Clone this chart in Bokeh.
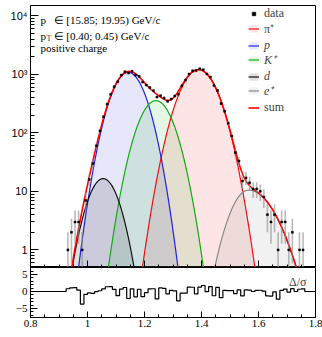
import numpy as np
from bokeh.plotting import figure
from bokeh.layouts import column
from bokeh.models import (FixedTicker, CustomJSTickFormatter, Label, Legend,
                          LegendItem, ColumnDataSource)
from bokeh.embed import file_html
from bokeh.resources import INLINE

# ---- histogram of dE/dx (counts per bin) ----
bin_start = 0.925
bin_width = 0.0125
counts = [1, 2, 3, 3, 1, 7, 16, 30, 60, 108,
          189, 309, 457, 613, 747, 969, 1107, 1054, 1128, 972,
          924, 737, 657, 595, 526, 409, 431, 394, 346, 377,
          426, 458, 639, 796, 1011, 1146, 1161, 1243, 1200, 1017,
          898, 642, 527, 316, 234, 146, 88, 46, 33, 15,
          17, 14, 11, 11, 10, 8, 4, 3, 4, 1,
          3, 3, 1, 2, 0, 1, 1]

# ---- fitted particle components (bifurcated gaussians) ----
species = ["pi", "p", "K", "d", "e"]
species_labels = ["π⁺", "p", "K⁺", "d", "e⁺"]
amplitudes = [1200, 1080, 355, 16.5, 10.5]
means = [1.39, 1.143, 1.24, 1.055, 1.565]
sigmas_left = [0.050, 0.0445, 0.046, 0.041, 0.048]
sigmas_right = [0.050, 0.0445, 0.046, 0.041, 0.068]

# styles
line_colors = ["#ee1111", "#2222dd", "#11aa11", "#111111", "#888888"]
fill_colors = ["#ee1111", "#2222dd", "#11aa11", "#222222", "#888888"]
fill_alpha = [0.11, 0.11, 0.11, 0.14, 0.12]
italic = [False, True, True, True, True]

SERIF = "Liberation Serif"
SANS = "Liberation Sans"


def component(x, a, m, sl, sr):
    s = np.where(x < m, sl, sr)
    return a * np.exp(-0.5 * ((x - m) / s) ** 2)


n_bins = len(counts)
centers = bin_start + bin_width * (np.arange(n_bins) + 0.5)
edges = bin_start + bin_width * np.arange(n_bins + 1)
cnt = np.array(counts, dtype=float)

xs = np.linspace(0.8, 1.8, 1001)
comp_curves = [component(xs, a, m, sl, sr) for a, m, sl, sr in
               zip(amplitudes, means, sigmas_left, sigmas_right)]
sum_curve = np.sum(comp_curves, axis=0)
model_centers = np.sum([component(centers, a, m, sl, sr) for a, m, sl, sr in
                        zip(amplitudes, means, sigmas_left, sigmas_right)], axis=0)

# ---- main panel ----
p = figure(width=322, height=267, frame_width=285, frame_height=262,
           x_range=(0.8, 1.8), y_range=(0.5, 1.5e4), y_axis_type="log",
           output_backend="svg", toolbar_location=None,
           min_border_left=30, min_border_right=7, min_border_top=5,
           min_border_bottom=0)
p.background_fill_color = "white"
p.border_fill_color = "white"
p.outline_line_color = "black"
p.outline_line_width = 1
p.xgrid.visible = False
p.ygrid.visible = False

fills, lines = [], []
for i in range(len(species)):
    yv = np.maximum(comp_curves[i], 1e-4)
    f = p.varea(x=xs, y1=np.full_like(xs, 1e-4), y2=yv,
                fill_color=fill_colors[i], fill_alpha=fill_alpha[i])
    fills.append(f)
for i in range(len(species)):
    yv = np.maximum(comp_curves[i], 1e-4)
    l = p.line(xs, yv, line_color=line_colors[i], line_width=1.2)
    lines.append(l)

sum_line = p.line(xs, sum_curve, line_color="#ff0000", line_width=1.6)

valid = cnt > 0
err = np.sqrt(cnt)
src = ColumnDataSource(dict(
    x=centers[valid], y=cnt[valid],
    lo=np.maximum(cnt[valid] - err[valid], 1e-3),
    hi=cnt[valid] + err[valid]))
p.segment(x0="x", x1="x", y0="lo", y1="hi", source=src,
          line_color="#8a8a8a", line_alpha=0.6, line_width=1.6)
pts = p.scatter(x="x", y="y", source=src, marker="square", size=2.0,
                fill_color="black", line_color="black", line_width=0.5)

# axes
x_ticker = FixedTicker(ticks=[0.8, 1.0, 1.2, 1.4, 1.6, 1.8],
                       minor_ticks=np.round(np.arange(0.8, 1.8001, 0.05), 2).tolist())
p.xaxis.ticker = x_ticker
p.xaxis.formatter = CustomJSTickFormatter(code="return '';")
p.xaxis.major_label_standoff = 0
p.xaxis.major_tick_in = 7
p.xaxis.major_tick_out = 0
p.xaxis.minor_tick_in = 3
p.xaxis.minor_tick_out = 0
p.xaxis.axis_line_color = "black"

p.yaxis.ticker = FixedTicker(
    ticks=[1, 10, 100, 1000, 10000],
    minor_ticks=[m * 10 ** e for e in range(-1, 5) for m in range(1, 10)])
p.yaxis.formatter = CustomJSTickFormatter(code="""
const e = Math.round(Math.log10(tick));
if (e == 0) return "1";
if (e == 1) return "10";
const sup = {2: "\u00b2", 3: "\u00b3", 4: "\u2074"};
return "10" + sup[e];
""")
p.yaxis.major_tick_in = 8
p.yaxis.major_tick_out = 0
p.yaxis.minor_tick_in = 4
p.yaxis.minor_tick_out = 0
p.yaxis.major_label_standoff = 3
p.yaxis.major_label_text_font = SANS
p.yaxis.major_label_text_font_size = "11px"
p.yaxis.major_label_text_color = "black"
p.yaxis.axis_line_color = "black"

# info text
info_font = dict(text_font=SERIF, text_font_size="11px", text_color="black",
                 x_units="screen", y_units="screen", text_baseline="alphabetic")
p.add_layout(Label(x=10, y=247.5, text="p", **info_font))
p.add_layout(Label(x=23, y=247.5, text="∈ [15.85; 19.95) GeV/c", **info_font))
p.add_layout(Label(x=10, y=232, text="p", **info_font))
p.add_layout(Label(x=16, y=229.5, text="T", text_font=SERIF, text_font_size="8px",
                   x_units="screen", y_units="screen", text_baseline="alphabetic"))
p.add_layout(Label(x=23, y=232, text="∈ [0.40; 0.45) GeV/c", **info_font))
p.add_layout(Label(x=10, y=220, text="positive charge", **info_font))

# legend, one row per entry
row_centers = [14, 30, 46, 61, 77, 92, 108]
entries = [("data", [pts], False)]
for i in range(len(species)):
    entries.append((species_labels[i], [fills[i], lines[i]], italic[i]))
entries.append(("sum", [sum_line], False))
for (lab, rends, it), c in zip(entries, row_centers):
    leg = Legend(items=[LegendItem(label=lab, renderers=rends)],
                 location=(218, 267 - c - 7),
                 glyph_width=11, glyph_height=9, label_standoff=5,
                 padding=0, spacing=0, margin=0, label_height=14,
                 border_line_color=None, background_fill_alpha=0,
                 label_text_font=SERIF, label_text_font_size="12px",
                 label_text_font_style="italic" if it else "normal",
                 label_text_baseline="middle")
    p.add_layout(leg)

# ---- residual panel ----
resid = np.where(cnt > 0, (cnt - model_centers) / np.sqrt(np.maximum(cnt, 1)), 0.0)
step_x = np.concatenate([[0.8], edges, [1.8]])
step_y = np.concatenate([[0.0], resid, [0.0, 0.0]])

r = figure(width=322, height=70, frame_width=285, frame_height=50,
           x_range=(0.8, 1.8), y_range=(-7.7, 7.1),
           output_backend="svg", toolbar_location=None,
           min_border_left=30, min_border_right=7, min_border_top=0,
           min_border_bottom=20)
r.background_fill_color = "white"
r.border_fill_color = "white"
r.outline_line_color = "black"
r.xgrid.visible = False
r.ygrid.visible = False
r.step(step_x, step_y, mode="after", line_color="black", line_width=1.2)

r.xaxis.ticker = x_ticker
r.xaxis.formatter = CustomJSTickFormatter(code="return String(Math.round(tick*10)/10);")
r.xaxis.major_tick_in = 6
r.xaxis.major_tick_out = 0
r.xaxis.minor_tick_in = 3
r.xaxis.minor_tick_out = 0
r.xaxis.major_label_standoff = 2
r.xaxis.major_label_text_font = SERIF
r.xaxis.major_label_text_font_size = "11px"
r.xaxis.major_label_text_color = "black"
r.xaxis.axis_line_color = "black"

r.yaxis.ticker = FixedTicker(ticks=[-5, 0, 5], minor_ticks=list(range(-7, 8)))
r.yaxis.formatter = CustomJSTickFormatter(
    code="return tick < 0 ? '\u2212' + Math.abs(tick) : String(tick);")
r.yaxis.major_tick_in = 7
r.yaxis.major_tick_out = 0
r.yaxis.minor_tick_in = 3
r.yaxis.minor_tick_out = 0
r.yaxis.major_label_standoff = 3
r.yaxis.major_label_text_font = SERIF
r.yaxis.major_label_text_font_size = "11px"
r.yaxis.major_label_text_color = "black"
r.yaxis.axis_line_color = "black"

r.add_layout(Label(x=276, y=36, text="Δ/σ", text_font=SERIF, text_font_size="12px",
                   x_units="screen", y_units="screen", text_align="right",
                   text_baseline="middle"))
r.add_layout(Label(x=285, y=-15, text="dE/dx", text_font=SERIF, text_font_size="11px",
                   x_units="screen", y_units="screen", text_align="right",
                   text_baseline="middle"))

layout = column(p, r, spacing=0)
open("out.html", "w").write(file_html(layout, INLINE))
